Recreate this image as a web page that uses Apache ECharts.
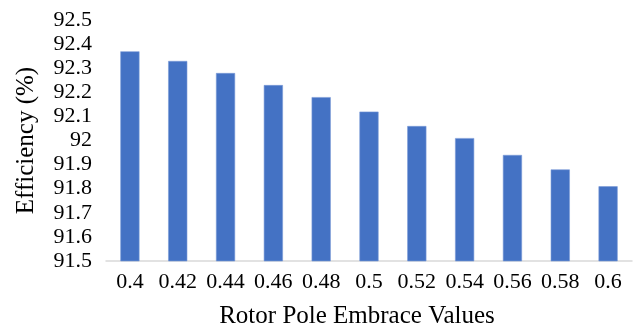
<!DOCTYPE html>
<html><head><meta charset="utf-8">
<script src="https://cdn.jsdelivr.net/npm/echarts@6/dist/echarts.min.js"></script>
<style>html,body{margin:0;padding:0;background:#fff}#c{width:636px;height:328px}</style>
</head><body><div id="c"></div>
<script>
const categories = ['0.4','0.42','0.44','0.46','0.48','0.5','0.52','0.54','0.56','0.58','0.6'];
const efficiency = [92.37, 92.33, 92.28, 92.23, 92.18, 92.12, 92.06, 92.01, 91.94, 91.88, 91.81];
const yTicks = ['91.5','91.6','91.7','91.8','91.9','92','92.1','92.2','92.3','92.4','92.5'];
const font = '"Liberation Serif", "Times New Roman", serif';
const chart = echarts.init(document.getElementById('c'));
chart.setOption({
  animation: false,
  grid: {left: 106, right: 4, top: 20, bottom: 67, containLabel: false, outerBoundsMode: 'none'},
  xAxis: {
    type: 'category', data: categories,
    name: 'Rotor Pole Embrace Values', nameLocation: 'middle', nameGap: 43,
    nameTextStyle: {fontFamily: font, fontSize: 25, color: '#000', padding: [0, 24, 0, 0]},
    axisLine: {lineStyle: {color: '#d9d9d9', width: 1.5}},
    axisTick: {show: false},
    axisLabel: {fontFamily: font, fontSize: 22, color: '#000', margin: 10, interval: 0}
  },
  yAxis: {
    type: 'value', min: 91.5, max: 92.5, interval: 0.1,
    name: 'Efficiency (%)', nameLocation: 'middle', nameGap: 67,
    nameTextStyle: {fontFamily: font, fontSize: 25, color: '#000'},
    splitLine: {show: false}, axisLine: {show: false}, axisTick: {show: false},
    axisLabel: {fontFamily: font, fontSize: 22, color: '#000', margin: 14,
      formatter: v => yTicks[Math.round((v - 91.5) * 10)]}
  },
  series: [{
    type: 'bar', data: efficiency, barWidth: '40%',
    itemStyle: {color: '#4472C4', borderColor: '#7b9ad6', borderWidth: 0.6}
  }]
});
</script></body></html>
